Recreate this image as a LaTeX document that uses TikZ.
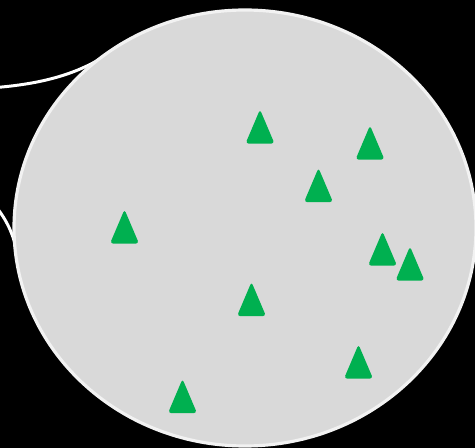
\documentclass[tikz,border=0pt]{standalone}
\definecolor{bgblack}{HTML}{000000}
\definecolor{regiongray}{HTML}{D9D9D9}
\definecolor{rimwhite}{HTML}{F2F2F2}
\definecolor{markgreen}{HTML}{00B050}
\tikzset{
  neighbour/.style={draw=white, line width=1.7pt},
  region/.style={fill=regiongray, draw=rimwhite, line width=1.8pt},
  marker/.pic={\fill[markgreen, rounded corners=1.8pt] (-14.5,0.6) -- (0,-33.5) -- (14.5,0.6) -- cycle;}
}
\begin{document}
\begin{tikzpicture}[x=0.02cm, y=-0.02cm]
  \useasboundingbox (0,0) rectangle (475,448);
  \clip (0,0) rectangle (475,448);
  \fill[bgblack] (0,0) rectangle (475,448);
  % neighbouring region borders, ending under the main region
  \coordinate (nwa) at (-5,87.6);
  \coordinate (nwb) at (105,56);
  \draw[neighbour] (nwa) .. controls (40,84) and (75,75) .. (nwb);
  \coordinate (wa) at (-3,208);
  \coordinate (wb) at (18,258);
  \draw[neighbour] (wa) .. controls (8,222) and (15,238) .. (wb);
  % main region
  \draw[region] (245,228) ellipse [x radius=231, y radius=218];
  % markers (base centre)
  \pic at (260,143) {marker};
  \pic at (370,159) {marker};
  \pic at (318.5,201.5) {marker};
  \pic at (124.5,243) {marker};
  \pic at (382.5,265) {marker};
  \pic at (410,280) {marker};
  \pic at (251.5,315.5) {marker};
  \pic at (358.5,378) {marker};
  \pic at (182.5,412.5) {marker};
\end{tikzpicture}
\end{document}
